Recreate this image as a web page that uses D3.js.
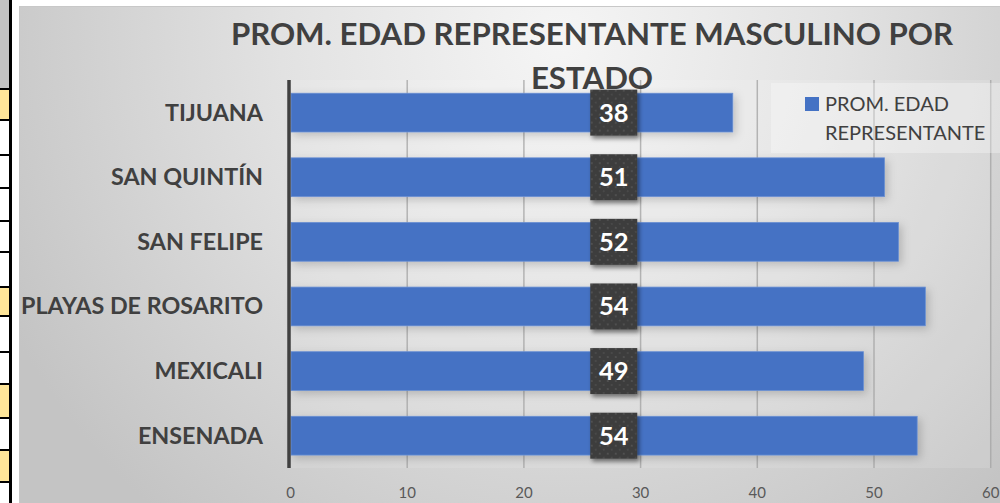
<!DOCTYPE html>
<html>
<head>
<meta charset="utf-8">
<script src="https://cdn.jsdelivr.net/npm/d3@7"></script>
<style>
  body { margin: 0; background: #fff; }
  svg { display: block; font-family: Lato, 'Open Sans', sans-serif; }
</style>
</head>
<body>
<svg id="chart" width="1000" height="503"></svg>
<script>
const categories = ['TIJUANA', 'SAN QUINTÍN', 'SAN FELIPE', 'PLAYAS DE ROSARITO', 'MEXICALI', 'ENSENADA'];
const values = [37.9, 50.9, 52.1, 54.4, 49.1, 53.7];
const valueLabels = ['38', '51', '52', '54', '49', '54'];
const xTicks = [0, 10, 20, 30, 40, 50, 60];
const titleLines = ['PROM. EDAD REPRESENTANTE MASCULINO POR', 'ESTADO'];
const legendLines = ['PROM. EDAD', 'REPRESENTANTE'];

// spreadsheet cells peeking in at the left edge
const cellRows = [89, 120, 155, 188, 221, 252, 287, 316, 352, 384, 418, 450, 482, 503];
const yellowRows = [0, 6, 9, 11];

const svg = d3.select('#chart');
const defs = svg.append('defs');

const bg = defs.append('radialGradient')
    .attr('id', 'bg')
    .attr('gradientUnits', 'userSpaceOnUse')
    .attr('cx', 560).attr('cy', 40).attr('r', 620);
bg.append('stop').attr('offset', '0').attr('stop-color', '#f5f5f5');
bg.append('stop').attr('offset', '0.45').attr('stop-color', '#e2e2e2');
bg.append('stop').attr('offset', '1').attr('stop-color', '#c4c4c4');

const shadow = defs.append('filter')
    .attr('id', 'shadow')
    .attr('x', '-20%').attr('y', '-20%').attr('width', '150%').attr('height', '150%');
shadow.append('feDropShadow')
    .attr('dx', 2).attr('dy', 3).attr('stdDeviation', 2)
    .attr('flood-color', '#000').attr('flood-opacity', 0.45);

const barShadow = defs.append('filter')
    .attr('id', 'barshadow')
    .attr('x', '-5%').attr('y', '-30%').attr('width', '115%').attr('height', '170%');
barShadow.append('feDropShadow')
    .attr('dx', 3).attr('dy', 3).attr('stdDeviation', 4)
    .attr('flood-color', '#000').attr('flood-opacity', 0.18);

const dots = defs.append('pattern')
    .attr('id', 'dots')
    .attr('patternUnits', 'userSpaceOnUse')
    .attr('width', 8).attr('height', 8);
dots.append('rect').attr('width', 8).attr('height', 8).attr('fill', '#3c3c3c');
dots.append('circle').attr('cx', 2).attr('cy', 2).attr('r', 0.9).attr('fill', '#5a5a5a');
dots.append('circle').attr('cx', 6).attr('cy', 6).attr('r', 0.9).attr('fill', '#4e4e4e');

// left sheet strip
svg.append('rect')
    .attr('x', 0).attr('y', 0).attr('width', 9).attr('height', cellRows[0])
    .attr('fill', '#c3c3c3');
svg.selectAll('.cell')
    .data(d3.range(cellRows.length - 1))
  .enter().append('rect')
    .attr('class', 'cell')
    .attr('x', 0)
    .attr('y', i => cellRows[i])
    .attr('width', 9)
    .attr('height', i => cellRows[i + 1] - cellRows[i])
    .attr('fill', i => (yellowRows.includes(i) ? '#ffe699' : '#fff'));
svg.selectAll('.cellline')
    .data(cellRows.slice(0, -1))
  .enter().append('line')
    .attr('class', 'cellline')
    .attr('x1', 0).attr('x2', 10)
    .attr('y1', d => d).attr('y2', d => d)
    .attr('stroke', '#000').attr('stroke-width', 2);
svg.append('rect')
    .attr('x', 9).attr('y', 0).attr('width', 3).attr('height', 503)
    .attr('fill', '#000');

// chart area
svg.append('rect')
    .attr('x', 19.5).attr('y', 6.5).attr('width', 990).attr('height', 500)
    .attr('fill', 'url(#bg)')
    .attr('stroke', '#c8c8c8');

const x = d3.scaleLinear()
    .domain([0, 60])
    .range([290.5, 990.7]);

const y = d3.scaleBand()
    .domain(categories)
    .range([80.3, 468])
    .paddingInner(0.4)
    .paddingOuter(0.2);

// plot area tint
svg.append('rect')
    .attr('x', x(0)).attr('y', 80).attr('width', x(60) - x(0)).attr('height', 388)
    .attr('fill', '#fff').attr('opacity', 0.12);

// gridlines
svg.selectAll('.grid')
    .data(xTicks.filter(d => d > 0))
  .enter().append('line')
    .attr('class', 'grid')
    .attr('x1', d => x(d)).attr('x2', d => x(d))
    .attr('y1', 80).attr('y2', 468)
    .attr('stroke', '#a6a6a6').attr('stroke-width', 1.5).attr('opacity', 0.8);

// bars
svg.selectAll('.bar')
    .data(categories)
  .enter().append('rect')
    .attr('class', 'bar')
    .attr('x', x(0) + 0.5)
    .attr('y', d => y(d))
    .attr('width', (d, i) => x(values[i]) - x(0) - 0.5)
    .attr('height', y.bandwidth())
    .attr('fill', '#4472c4')
    .attr('stroke', '#6a8fd2').attr('stroke-width', 0.8)
    .attr('filter', 'url(#barshadow)');

// vertical axis line
svg.append('line')
    .attr('x1', x(0) - 1.5).attr('x2', x(0) - 1.5)
    .attr('y1', 80).attr('y2', 468)
    .attr('stroke', '#404040').attr('stroke-width', 3.5);

// category labels
svg.selectAll('.cat')
    .data(categories)
  .enter().append('text')
    .attr('class', 'cat')
    .attr('x', 263)
    .attr('y', d => y(d) + y.bandwidth() / 2 + 8)
    .attr('text-anchor', 'end')
    .attr('font-size', 23.3)
    .attr('font-weight', 700)
    .attr('fill', '#404040')
    .text(d => d);

// x tick labels
svg.selectAll('.tick-label')
    .data(xTicks)
  .enter().append('text')
    .attr('class', 'tick-label')
    .attr('x', d => x(d))
    .attr('y', 497.5)
    .attr('text-anchor', 'middle')
    .attr('font-size', 15)
    .attr('fill', '#595959')
    .text(d => d);

// title
svg.selectAll('.title')
    .data(titleLines)
  .enter().append('text')
    .attr('class', 'title')
    .attr('x', 592)
    .attr('y', (d, i) => 45 + i * 44)
    .attr('text-anchor', 'middle')
    .attr('font-size', 31.2)
    .attr('font-weight', 700)
    .attr('fill', '#404040')
    .text(d => d);

// data labels
const labelAt = 27.7;
const lab = svg.selectAll('.lab')
    .data(categories)
  .enter().append('g')
    .attr('class', 'lab')
    .attr('transform', d => `translate(${x(labelAt)}, ${y(d) + y.bandwidth() / 2})`);
lab.append('rect')
    .attr('x', -23.5).attr('y', -23)
    .attr('width', 47).attr('height', 46)
    .attr('fill', 'url(#dots)')
    .attr('filter', 'url(#shadow)');
lab.append('text')
    .attr('y', 9)
    .attr('text-anchor', 'middle')
    .attr('font-size', 25.5)
    .attr('font-weight', 700)
    .attr('fill', '#fff')
    .text((d, i) => valueLabels[i]);

// legend
svg.append('rect')
    .attr('x', 771).attr('y', 83).attr('width', 229).attr('height', 70)
    .attr('fill', '#fff').attr('opacity', 0.3);
svg.append('rect')
    .attr('x', 805).attr('y', 97).attr('width', 14).attr('height', 14)
    .attr('fill', '#4472c4');
svg.selectAll('.leg')
    .data(legendLines)
  .enter().append('text')
    .attr('class', 'leg')
    .attr('x', 825)
    .attr('y', (d, i) => 111 + i * 29)
    .attr('font-size', 20)
    .attr('fill', '#404040')
    .text(d => d);
</script>
</body>
</html>
